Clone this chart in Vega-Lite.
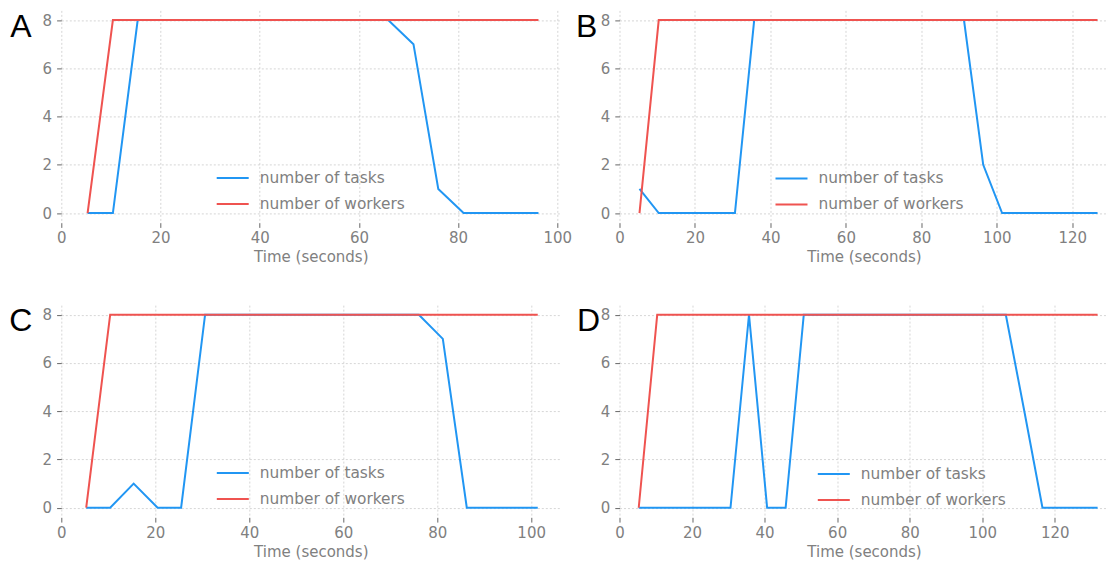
{
  "$schema": "https://vega.github.io/schema/vega-lite/v6.json",
  "padding": {"left": 9.3, "top": 10.4, "right": 0, "bottom": 0},
  "background": "white",
  "datasets": {
    "A": [
      {"t": 5.3, "tasks": 0, "workers": 0},
      {"t": 10.4, "tasks": 0, "workers": 8},
      {"t": 15.4, "tasks": 8, "workers": 8},
      {"t": 20.5, "tasks": 8, "workers": 8},
      {"t": 25.5, "tasks": 8, "workers": 8},
      {"t": 30.6, "tasks": 8, "workers": 8},
      {"t": 35.6, "tasks": 8, "workers": 8},
      {"t": 40.7, "tasks": 8, "workers": 8},
      {"t": 45.7, "tasks": 8, "workers": 8},
      {"t": 50.8, "tasks": 8, "workers": 8},
      {"t": 55.8, "tasks": 8, "workers": 8},
      {"t": 60.9, "tasks": 8, "workers": 8},
      {"t": 65.9, "tasks": 8, "workers": 8},
      {"t": 71.0, "tasks": 7, "workers": 8},
      {"t": 76.0, "tasks": 1, "workers": 8},
      {"t": 81.1, "tasks": 0, "workers": 8},
      {"t": 86.1, "tasks": 0, "workers": 8},
      {"t": 91.2, "tasks": 0, "workers": 8},
      {"t": 96.2, "tasks": 0, "workers": 8}
    ],
    "B": [
      {"t": 5.3, "tasks": 1, "workers": 0},
      {"t": 10.4, "tasks": 0, "workers": 8},
      {"t": 15.4, "tasks": 0, "workers": 8},
      {"t": 20.5, "tasks": 0, "workers": 8},
      {"t": 25.5, "tasks": 0, "workers": 8},
      {"t": 30.6, "tasks": 0, "workers": 8},
      {"t": 35.7, "tasks": 8, "workers": 8},
      {"t": 40.7, "tasks": 8, "workers": 8},
      {"t": 45.8, "tasks": 8, "workers": 8},
      {"t": 50.8, "tasks": 8, "workers": 8},
      {"t": 55.9, "tasks": 8, "workers": 8},
      {"t": 61.0, "tasks": 8, "workers": 8},
      {"t": 66.0, "tasks": 8, "workers": 8},
      {"t": 71.1, "tasks": 8, "workers": 8},
      {"t": 76.1, "tasks": 8, "workers": 8},
      {"t": 81.2, "tasks": 8, "workers": 8},
      {"t": 86.3, "tasks": 8, "workers": 8},
      {"t": 91.3, "tasks": 8, "workers": 8},
      {"t": 96.4, "tasks": 2, "workers": 8},
      {"t": 101.4, "tasks": 0, "workers": 8},
      {"t": 106.5, "tasks": 0, "workers": 8},
      {"t": 111.6, "tasks": 0, "workers": 8},
      {"t": 116.6, "tasks": 0, "workers": 8},
      {"t": 121.7, "tasks": 0, "workers": 8},
      {"t": 126.7, "tasks": 0, "workers": 8}
    ],
    "C": [
      {"t": 5.3, "tasks": 0, "workers": 0},
      {"t": 10.4, "tasks": 0, "workers": 8},
      {"t": 15.4, "tasks": 1, "workers": 8},
      {"t": 20.5, "tasks": 0, "workers": 8},
      {"t": 25.5, "tasks": 0, "workers": 8},
      {"t": 30.6, "tasks": 8, "workers": 8},
      {"t": 35.7, "tasks": 8, "workers": 8},
      {"t": 40.7, "tasks": 8, "workers": 8},
      {"t": 45.8, "tasks": 8, "workers": 8},
      {"t": 50.8, "tasks": 8, "workers": 8},
      {"t": 55.9, "tasks": 8, "workers": 8},
      {"t": 61.0, "tasks": 8, "workers": 8},
      {"t": 66.0, "tasks": 8, "workers": 8},
      {"t": 71.1, "tasks": 8, "workers": 8},
      {"t": 76.1, "tasks": 8, "workers": 8},
      {"t": 81.2, "tasks": 7, "workers": 8},
      {"t": 86.3, "tasks": 0, "workers": 8},
      {"t": 91.3, "tasks": 0, "workers": 8},
      {"t": 96.4, "tasks": 0, "workers": 8},
      {"t": 101.4, "tasks": 0, "workers": 8}
    ],
    "D": [
      {"t": 5.3, "tasks": 0, "workers": 0},
      {"t": 10.4, "tasks": 0, "workers": 8},
      {"t": 15.4, "tasks": 0, "workers": 8},
      {"t": 20.5, "tasks": 0, "workers": 8},
      {"t": 25.5, "tasks": 0, "workers": 8},
      {"t": 30.6, "tasks": 0, "workers": 8},
      {"t": 35.7, "tasks": 8, "workers": 8},
      {"t": 40.7, "tasks": 0, "workers": 8},
      {"t": 45.8, "tasks": 0, "workers": 8},
      {"t": 50.8, "tasks": 8, "workers": 8},
      {"t": 55.9, "tasks": 8, "workers": 8},
      {"t": 61.0, "tasks": 8, "workers": 8},
      {"t": 66.0, "tasks": 8, "workers": 8},
      {"t": 71.1, "tasks": 8, "workers": 8},
      {"t": 76.1, "tasks": 8, "workers": 8},
      {"t": 81.2, "tasks": 8, "workers": 8},
      {"t": 86.3, "tasks": 8, "workers": 8},
      {"t": 91.3, "tasks": 8, "workers": 8},
      {"t": 96.4, "tasks": 8, "workers": 8},
      {"t": 101.4, "tasks": 8, "workers": 8},
      {"t": 106.5, "tasks": 8, "workers": 8},
      {"t": 111.6, "tasks": 4, "workers": 8},
      {"t": 116.6, "tasks": 0, "workers": 8},
      {"t": 121.7, "tasks": 0, "workers": 8},
      {"t": 126.7, "tasks": 0, "workers": 8},
      {"t": 131.8, "tasks": 0, "workers": 8}
    ]
  },
  "columns": 2,
  "spacing": {"row": 81.7, "column": 59.2},
  "bounds": "flush",
  "resolve": {
    "legend": {"color": "independent"},
    "scale": {"x": "independent", "y": "independent"}
  },
  "concat": [
    {
      "width": 499, "height": 212.3,
      "title": {"text": "A", "dx": -51, "dy": 37.2},
      "data": {"name": "A"},
      "transform": [{"fold": ["tasks", "workers"], "as": ["series", "count"]}],
      "mark": {"type": "line", "strokeWidth": 2},
      "encoding": {
        "x": {"field": "t", "type": "quantitative", "scale": {"domain": [0, 100.6], "nice": false, "zero": false}, "axis": {"values": [0, 20, 40, 60, 80, 100], "title": "Time (seconds)"}},
        "y": {"field": "count", "type": "quantitative", "scale": {"domain": [-0.4, 8.4], "nice": false, "zero": false}, "axis": {"values": [0, 2, 4, 6, 8], "title": null}},
        "color": {"field": "series", "type": "nominal", "scale": {"domain": ["tasks", "workers"], "range": ["#2196f3", "#ef5350"]}, "legend": {"orient": "none", "legendX": 154.4, "legendY": 150.6, "title": null, "labelExpr": "'number of ' + datum.label"}}
      }
    },
    {
      "width": 489, "height": 212.3,
      "title": {"text": "B", "dx": -43.5, "dy": 37.2},
      "data": {"name": "B"},
      "transform": [{"fold": ["tasks", "workers"], "as": ["series", "count"]}],
      "mark": {"type": "line", "strokeWidth": 2},
      "encoding": {
        "x": {"field": "t", "type": "quantitative", "scale": {"domain": [0, 129.6], "nice": false, "zero": false}, "axis": {"values": [0, 20, 40, 60, 80, 100, 120], "title": "Time (seconds)"}},
        "y": {"field": "count", "type": "quantitative", "scale": {"domain": [-0.4, 8.4], "nice": false, "zero": false}, "axis": {"values": [0, 2, 4, 6, 8], "title": null}},
        "color": {"field": "series", "type": "nominal", "scale": {"domain": ["tasks", "workers"], "range": ["#2196f3", "#ef5350"]}, "legend": {"orient": "none", "legendX": 155, "legendY": 151, "title": null, "labelExpr": "'number of ' + datum.label"}}
      }
    },
    {
      "width": 499, "height": 212.3,
      "title": {"text": "C", "dx": -52, "dy": 37.2},
      "data": {"name": "C"},
      "transform": [{"fold": ["tasks", "workers"], "as": ["series", "count"]}],
      "mark": {"type": "line", "strokeWidth": 2},
      "encoding": {
        "x": {"field": "t", "type": "quantitative", "scale": {"domain": [0, 106.2], "nice": false, "zero": false}, "axis": {"values": [0, 20, 40, 60, 80, 100], "title": "Time (seconds)"}},
        "y": {"field": "count", "type": "quantitative", "scale": {"domain": [-0.4, 8.4], "nice": false, "zero": false}, "axis": {"values": [0, 2, 4, 6, 8], "title": null}},
        "color": {"field": "series", "type": "nominal", "scale": {"domain": ["tasks", "workers"], "range": ["#2196f3", "#ef5350"]}, "legend": {"orient": "none", "legendX": 154.5, "legendY": 151, "title": null, "labelExpr": "'number of ' + datum.label"}}
      }
    },
    {
      "width": 489, "height": 212.3,
      "title": {"text": "D", "dx": -42.5, "dy": 37.2},
      "data": {"name": "D"},
      "transform": [{"fold": ["tasks", "workers"], "as": ["series", "count"]}],
      "mark": {"type": "line", "strokeWidth": 2},
      "encoding": {
        "x": {"field": "t", "type": "quantitative", "scale": {"domain": [0, 134.8], "nice": false, "zero": false}, "axis": {"values": [0, 20, 40, 60, 80, 100, 120], "title": "Time (seconds)"}},
        "y": {"field": "count", "type": "quantitative", "scale": {"domain": [-0.4, 8.4], "nice": false, "zero": false}, "axis": {"values": [0, 2, 4, 6, 8], "title": null}},
        "color": {"field": "series", "type": "nominal", "scale": {"domain": ["tasks", "workers"], "range": ["#2196f3", "#ef5350"]}, "legend": {"orient": "none", "legendX": 197.3, "legendY": 152, "title": null, "labelExpr": "'number of ' + datum.label"}}
      }
    }
  ],
  "config": {
    "view": {"stroke": null},
    "title": {"anchor": "start", "frame": "group", "orient": "top", "offset": 0, "baseline": "alphabetic", "font": "Liberation Sans", "fontSize": 32, "fontWeight": "normal", "color": "#000000"},
    "axis": {
      "domain": false, "grid": true,
      "tickColor": "#666666", "tickSize": 4.7, "tickWidth": 1,
      "labelFont": "DejaVu Sans", "labelFontSize": 15, "labelColor": "#808080",
      "labelFlush": false, "labelOverlap": false,
      "titleFont": "DejaVu Sans", "titleFontSize": 15, "titleColor": "#808080", "titleFontWeight": "normal",
      "gridColor": "#cccccc", "gridDash": [2, 2], "gridWidth": 0.8
    },
    "axisX": {"labelPadding": 3.3, "titlePadding": 4.3},
    "axisY": {"labelPadding": 5},
    "legend": {
      "symbolType": "stroke", "symbolSize": 1024, "symbolStrokeWidth": 2,
      "labelFont": "DejaVu Sans", "labelFontSize": 15.4, "labelColor": "#808080",
      "labelOffset": 10, "rowPadding": -1.7, "padding": 0, "labelLimit": 300
    }
  }
}
